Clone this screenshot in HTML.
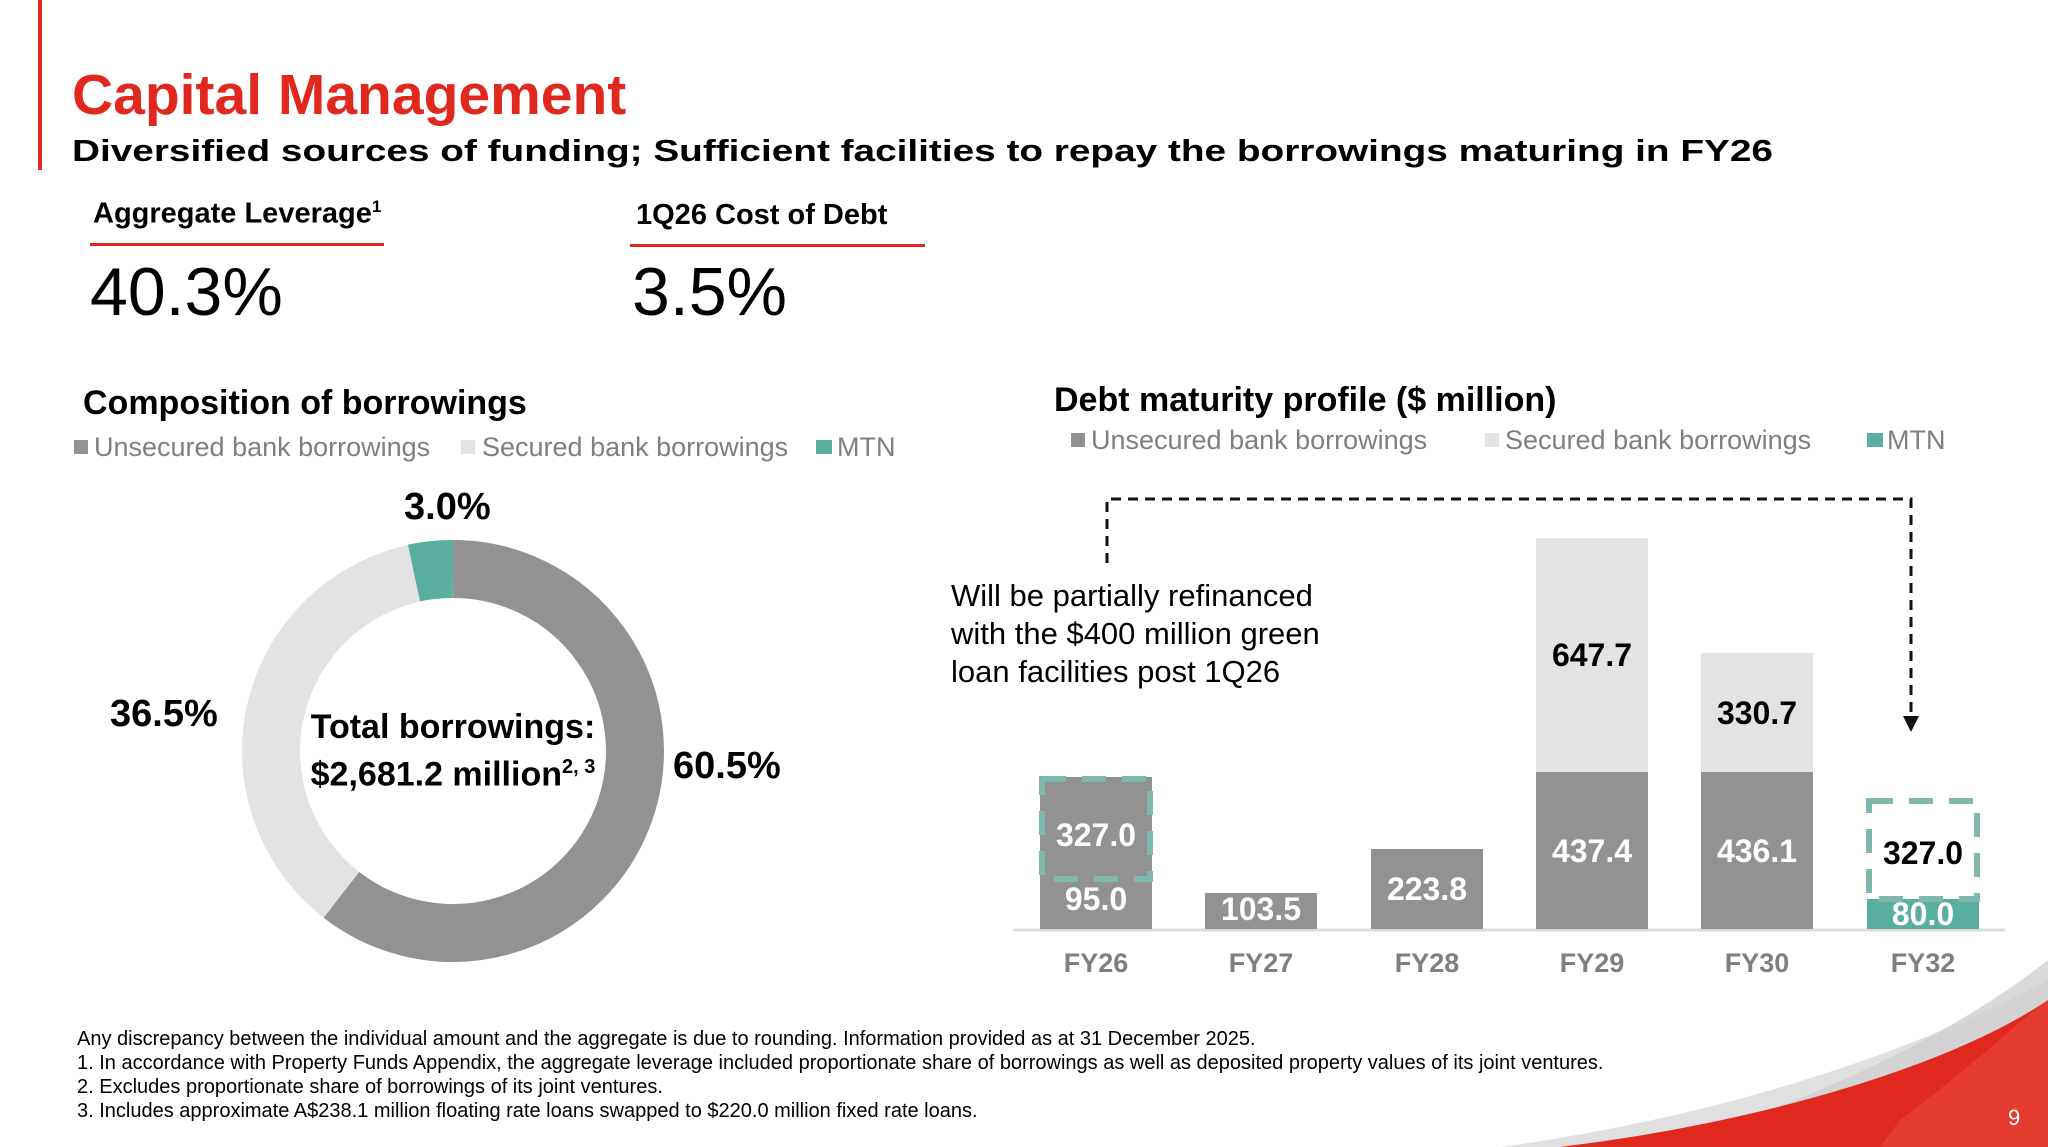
<!DOCTYPE html>
<html><head><meta charset="utf-8"><style>
body{margin:0;width:2048px;height:1147px;overflow:hidden;background:#fff;font-family:"Liberation Sans",Arial,sans-serif;position:relative}
.a{position:absolute;white-space:nowrap}
</style></head><body>
<svg class="a" style="left:0;top:0" width="2048" height="1147">
<rect x="38" y="0" width="4" height="170" fill="#e0281e"/>
<rect x="90" y="243" width="294" height="3" fill="#e0281e"/>
<rect x="630" y="244" width="295" height="3" fill="#e0281e"/>
<g fill="none" stroke-width="58">
<path d="M453,569 A182,182 0 1 1 341.4,894.8" stroke="#929292"/>
<path d="M341.4,894.8 A182,182 0 0 1 418.9,572.3" stroke="#e3e3e3"/>
<path d="M414,573 A182,182 0 0 1 453,569" stroke="#5aaea0"/>
</g>
<rect x="74" y="440" width="14" height="14" fill="#929292"/>
<rect x="461" y="440" width="14" height="14" fill="#e3e3e3"/>
<rect x="816" y="440" width="16" height="14" fill="#5aaea0"/>
<rect x="1071" y="433" width="14" height="14" fill="#929292"/>
<rect x="1485" y="433" width="14" height="14" fill="#e3e3e3"/>
<rect x="1867" y="433" width="16" height="14" fill="#5aaea0"/>
<line x1="1013" y1="930" x2="2005" y2="930" stroke="#dcdcdc" stroke-width="3"/>
<rect x="1040" y="777" width="112" height="152" fill="#929292"/>
<rect x="1205" y="893" width="112" height="36" fill="#929292"/>
<rect x="1371" y="849" width="112" height="80" fill="#929292"/>
<rect x="1536" y="772" width="112" height="157" fill="#929292"/>
<rect x="1536" y="538" width="112" height="234" fill="#e3e3e3"/>
<rect x="1701" y="772" width="112" height="157" fill="#929292"/>
<rect x="1701" y="653" width="112" height="119" fill="#e3e3e3"/>
<rect x="1867" y="899" width="112" height="30" fill="#5aaea0"/>
<rect x="1042" y="779" width="108" height="100" fill="none" stroke="#7fb8ad" stroke-width="6" stroke-dasharray="24,16"/>
<rect x="1869" y="801" width="108" height="98" fill="none" stroke="#7fb8ad" stroke-width="6" stroke-dasharray="24,16"/>
<path d="M1107,563 V499 H1911 V720" fill="none" stroke="#111" stroke-width="3" stroke-dasharray="10,7"/>
<polygon points="1903,716 1919,716 1911,732" fill="#111"/>
<path d="M1500,1147 C1700,1120 1900,1060 2048,980 L2048,1147 Z" fill="#d8d8d8" opacity="0.8"/>
<path d="M1660,1147 C1820,1100 1960,1030 2048,960 L2048,1147 Z" fill="#d0d0d0" opacity="0.8"/>
<path d="M1560,1147 C1780,1120 1960,1060 2048,1000 L2048,1147 Z" fill="#e0281e"/>
<path d="M1900,1120 C1980,1060 2020,1020 2048,1000 L2048,1147 L1880,1147 Z" fill="#e84a3a" opacity="0.6"/>
</svg>
<div class="a" style="left:72px;top:62px;font-size:57px;font-weight:bold;color:#e0281e">Capital Management</div>
<div class="a" style="left:72px;top:133px;font-size:31px;font-weight:bold;color:#000;transform:scaleX(1.25);transform-origin:0 0">Diversified sources of funding; Sufficient facilities to repay the borrowings maturing in FY26</div>
<div class="a" style="left:93px;top:197px;font-size:29px;font-weight:bold">Aggregate Leverage<sup style="font-size:17px">1</sup></div>
<div class="a" style="left:636px;top:199px;font-size:29px;font-weight:bold">1Q26 Cost of Debt</div>
<div class="a" style="left:90px;top:253px;font-size:68px">40.3%</div>
<div class="a" style="left:632px;top:253px;font-size:68px">3.5%</div>
<div class="a" style="left:83px;top:384px;font-size:34px;font-weight:bold">Composition of borrowings</div>
<div class="a" style="left:94px;top:432px;font-size:27px;color:#7f7f7f">Unsecured bank borrowings</div>
<div class="a" style="left:482px;top:432px;font-size:27px;color:#7f7f7f">Secured bank borrowings</div>
<div class="a" style="left:837px;top:432px;font-size:27px;color:#7f7f7f">MTN</div>
<div class="a" style="left:404px;top:486px;font-size:38px;font-weight:bold">3.0%</div>
<div class="a" style="left:110px;top:693px;font-size:38px;font-weight:bold">36.5%</div>
<div class="a" style="left:673px;top:745px;font-size:38px;font-weight:bold">60.5%</div>
<div class="a" style="left:253px;top:707px;width:400px;text-align:center;font-size:34px;font-weight:bold;line-height:40px">Total borrowings:<br>$2,681.2 million<sup style="font-size:20px">2, 3</sup></div>
<div class="a" style="left:1054px;top:381px;font-size:34px;font-weight:bold">Debt maturity profile ($ million)</div>
<div class="a" style="left:1091px;top:425px;font-size:27px;color:#7f7f7f">Unsecured bank borrowings</div>
<div class="a" style="left:1505px;top:425px;font-size:27px;color:#7f7f7f">Secured bank borrowings</div>
<div class="a" style="left:1887px;top:425px;font-size:27px;color:#7f7f7f">MTN</div>
<div class="a" style="left:951px;top:577px;font-size:31px;line-height:38px">Will be partially refinanced<br>with the $400 million green<br>loan facilities post 1Q26</div>
<div class="a" style="font-size:32px;font-weight:bold;color:#fff;text-align:center;width:112px;left:1040px;top:817px">327.0</div>
<div class="a" style="font-size:32px;font-weight:bold;color:#fff;text-align:center;width:112px;left:1040px;top:881px">95.0</div>
<div class="a" style="font-size:32px;font-weight:bold;color:#fff;text-align:center;width:112px;left:1205px;top:891px">103.5</div>
<div class="a" style="font-size:32px;font-weight:bold;color:#fff;text-align:center;width:112px;left:1371px;top:871px">223.8</div>
<div class="a" style="font-size:32px;font-weight:bold;color:#000;text-align:center;width:112px;left:1536px;top:637px">647.7</div>
<div class="a" style="font-size:32px;font-weight:bold;color:#fff;text-align:center;width:112px;left:1536px;top:833px">437.4</div>
<div class="a" style="font-size:32px;font-weight:bold;color:#000;text-align:center;width:112px;left:1701px;top:695px">330.7</div>
<div class="a" style="font-size:32px;font-weight:bold;color:#fff;text-align:center;width:112px;left:1701px;top:833px">436.1</div>
<div class="a" style="font-size:32px;font-weight:bold;color:#000;text-align:center;width:112px;left:1867px;top:835px">327.0</div>
<div class="a" style="font-size:32px;font-weight:bold;color:#fff;text-align:center;width:112px;left:1867px;top:896px">80.0</div>
<div class="a" style="font-size:27px;font-weight:bold;color:#7f7f7f;text-align:center;width:112px;left:1040px;top:948px">FY26</div>
<div class="a" style="font-size:27px;font-weight:bold;color:#7f7f7f;text-align:center;width:112px;left:1205px;top:948px">FY27</div>
<div class="a" style="font-size:27px;font-weight:bold;color:#7f7f7f;text-align:center;width:112px;left:1371px;top:948px">FY28</div>
<div class="a" style="font-size:27px;font-weight:bold;color:#7f7f7f;text-align:center;width:112px;left:1536px;top:948px">FY29</div>
<div class="a" style="font-size:27px;font-weight:bold;color:#7f7f7f;text-align:center;width:112px;left:1701px;top:948px">FY30</div>
<div class="a" style="font-size:27px;font-weight:bold;color:#7f7f7f;text-align:center;width:112px;left:1867px;top:948px">FY32</div>
<div class="a" style="left:77px;top:1027px;font-size:20px;line-height:24px">Any discrepancy between the individual amount and the aggregate is due to rounding. Information provided as at 31 December 2025.<br>1. In accordance with Property Funds Appendix, the aggregate leverage included proportionate share of borrowings as well as deposited property values of its joint ventures.<br>2. Excludes proportionate share of borrowings of its joint ventures.<br>3. Includes approximate A$238.1 million floating rate loans swapped to $220.0 million fixed rate loans.</div>
<div class="a" style="left:2008px;top:1105px;font-size:22px;color:#fff">9</div>
</body></html>
